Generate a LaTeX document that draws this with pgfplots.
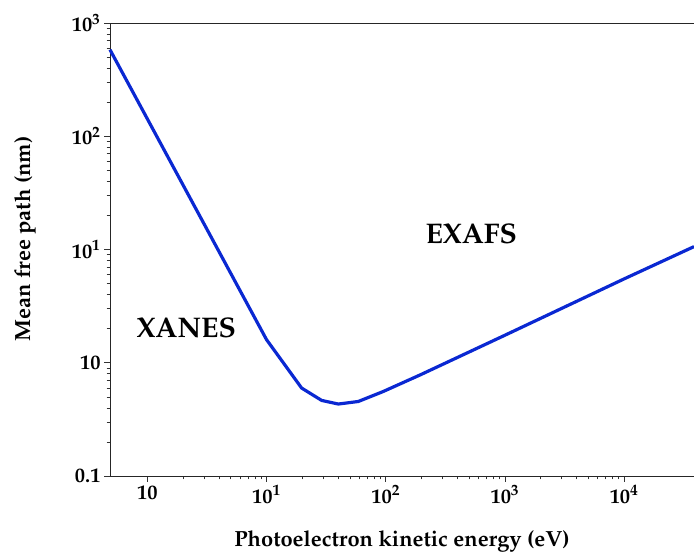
\documentclass[border=0pt]{standalone}
\usepackage[T1]{fontenc}
\usepackage{mathpazo}
\usepackage{pgfplots}
\pgfplotsset{compat=1.18}
\definecolor{curveblue}{RGB}{10,40,210}
\begin{document}
\begin{tikzpicture}
\begin{axis}[
  name=ax,
  xmode=log, ymode=log,
  scale only axis,
  width=584bp, height=453bp,
  xmin=0.486, xmax=38600,
  ymin=0.1, ymax=1000,
  axis lines=left,
  axis line style={-, line width=0.9pt, black!85},
  tick align=outside,
  major tick length=6bp,
  minor tick length=3.5bp,
  tick style={black!80, line width=0.6pt},
  xtick={1,10,100,1000,10000},
  xticklabels={10,$10^{1}$,$10^{2}$,$10^{3}$,$10^{4}$},
  ytick={0.1,1,10,100,1000},
  yticklabels={0.1,10,$10^{1}$,$10^{2}$,$10^{3}$},
  tick label style={font=\fontsize{20.5}{22}\selectfont\bfseries\boldmath},
  xlabel={Photoelectron kinetic energy (eV)},
  ylabel={Mean free path (nm)},
  every axis x label/.style={at={(axis description cs:0.5,-0.1435)}, anchor=center,
     font=\fontsize{22}{24}\selectfont\bfseries},
  every axis y label/.style={at={(axis description cs:-0.1455,0.523)}, rotate=90, anchor=center,
     font=\fontsize{22}{24}\selectfont\bfseries},
  clip=false,
]
\addplot[curveblue, line width=3.2pt, line join=round] coordinates {
  (0.486,581) (10,1.60) (19.7,0.598) (29.0,0.465) (40,0.432) (58.9,0.455)
  (95.5,0.558) (194,0.78) (1000,1.75) (10000,5.5) (38600,10.6)
};
\node[font=\fontsize{28.5}{30}\selectfont\bfseries, anchor=center] at (axis cs:2.12,2.03) {XANES};
\node[font=\fontsize{28.5}{30}\selectfont\bfseries, anchor=center] at (axis cs:522,13.7) {EXAFS};
\draw[line width=0.9pt, black!85] (rel axis cs:0,1) -- (rel axis cs:1,1);
\end{axis}
\pgfresetboundingbox
\path (ax.south west) ++(-110bp,-80bp) rectangle ([yshift=23bp]ax.north east);
\end{tikzpicture}
\end{document}
